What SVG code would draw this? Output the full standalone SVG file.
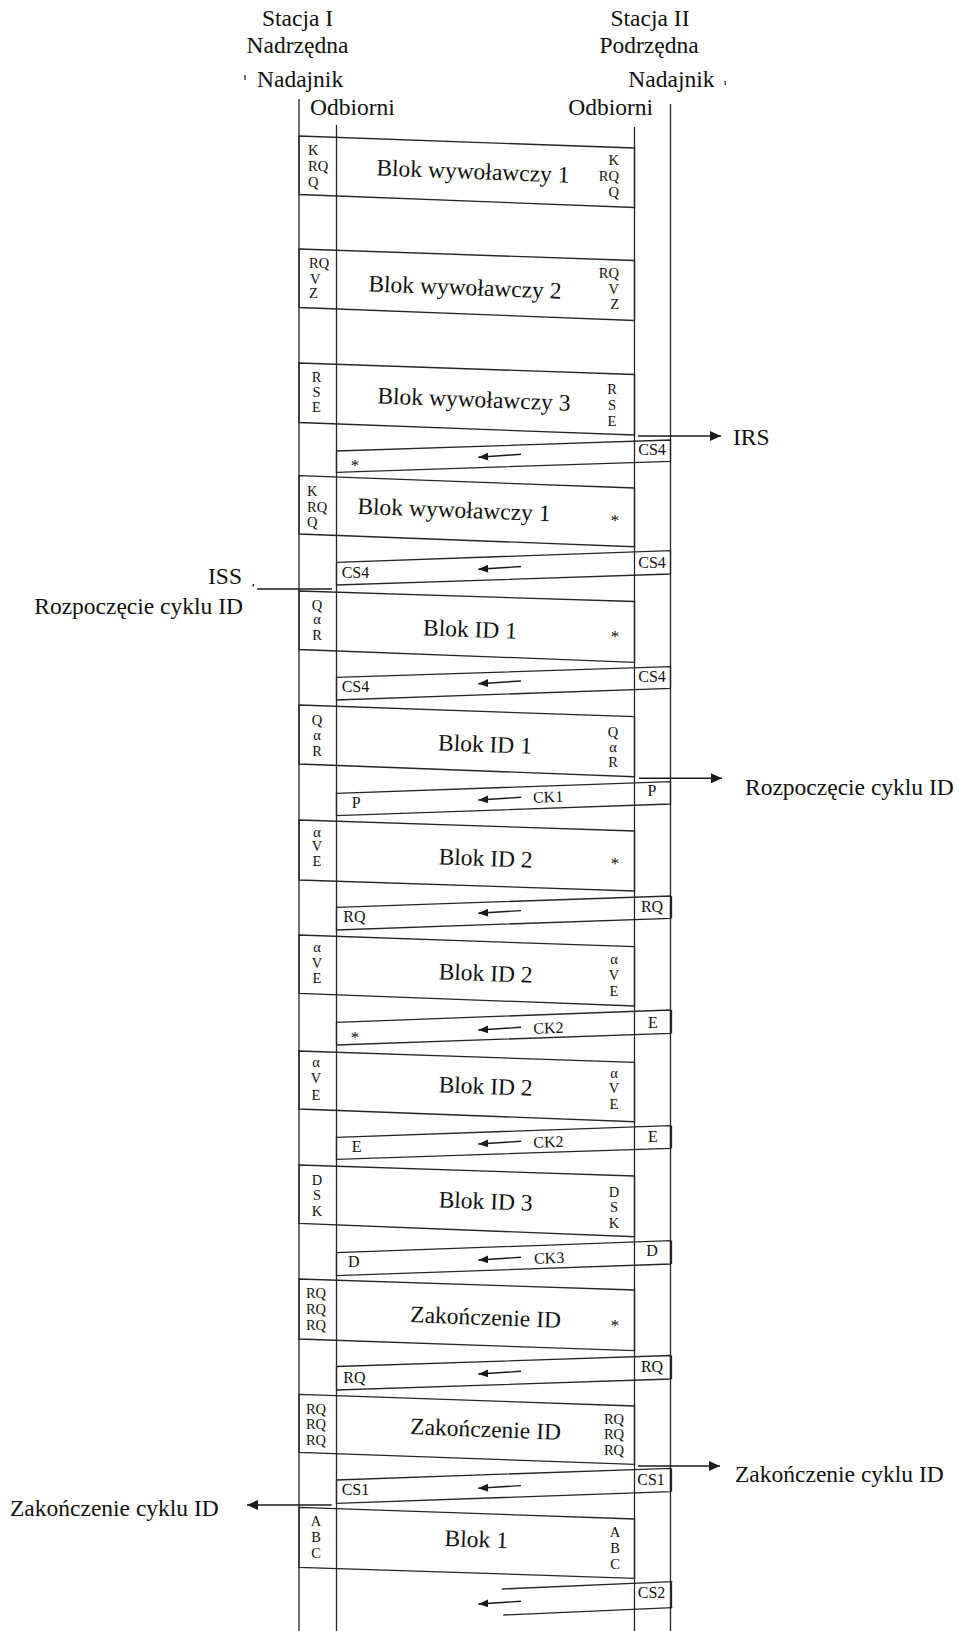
<svg xmlns="http://www.w3.org/2000/svg" width="959" height="1631" viewBox="0 0 959 1631">
<defs>
<style>
.ln{stroke:#262626;stroke-width:1.3;fill:none}
.bx polygon,.bx line{stroke:#262626;stroke-width:1.3;fill:none}
.edge{stroke:#262626;stroke-width:2.4}
text{font-family:"Liberation Serif","Times New Roman",serif;fill:#111}
.big{font-size:23.5px}
.sm{font-size:14.5px}
.md{font-size:16px}
.ast{font-size:17px;text-anchor:middle}
.c{text-anchor:middle}
.e{text-anchor:end}
.ar{stroke:#1a1a1a;stroke-width:1.4;fill:none}
</style>
<marker id="ah" viewBox="0 0 10 8" refX="10" refY="4" markerWidth="10" markerHeight="8" markerUnits="userSpaceOnUse" orient="auto"><path d="M0,0 L10,4 L0,8 z" fill="#1a1a1a"/></marker>
<marker id="ahb" viewBox="0 0 11 10" refX="11" refY="5" markerWidth="11" markerHeight="10" markerUnits="userSpaceOnUse" orient="auto"><path d="M0,0 L11,5 L0,10 z" fill="#1a1a1a"/></marker>
</defs>
<rect width="959" height="1631" fill="#fff"/>

<g id="header">
<text class="big c" x="297.5" y="25.7">Stacja I</text>
<text class="big c" x="297.5" y="53.3">Nadrzędna</text>
<text class="big" x="257" y="87.3">Nadajnik</text>
<text class="big" x="310" y="115">Odbiorni</text>
<text class="big c" x="650" y="25.7">Stacja II</text>
<text class="big c" x="649" y="53.3">Podrzędna</text>
<text class="big" x="628.3" y="87.3">Nadajnik</text>
<text class="big" x="568.3" y="115">Odbiorni</text>
<line class="ln" x1="245" y1="75" x2="245" y2="80"/>
<line class="ln" x1="725" y1="81" x2="725.5" y2="85"/>
</g>

<g id="lifelines" class="ln">
<line x1="299" y1="99" x2="299" y2="1631"/>
<line x1="336.5" y1="125" x2="336.5" y2="1631"/>
<line x1="634.5" y1="127" x2="634.5" y2="1631"/>
<line x1="670.5" y1="104" x2="670.5" y2="1631"/>
</g>

<g id="b1" class="bx">
<polygon points="299,136 634.5,148 634.5,207.5 299,194.5"/>
<text class="big c" x="473" y="179" transform="rotate(2.2 473 171)">Blok wywoławczy 1</text>
<text class="sm" x="308" y="155">K</text><text class="sm" x="308" y="171">RQ</text><text class="sm" x="308" y="186.5">Q</text>
<text class="sm e" x="619" y="165">K</text><text class="sm e" x="619" y="181">RQ</text><text class="sm e" x="619" y="196.7">Q</text>
</g>

<g id="b2" class="bx">
<polygon points="299,249 634.5,260.5 634.5,320.5 299,307.5"/>
<text class="big c" x="465" y="295" transform="rotate(2.2 465 287)">Blok wywoławczy 2</text>
<text class="sm" x="309" y="268.3">RQ</text><text class="sm" x="310" y="284.3">V</text><text class="sm" x="309" y="297.7">Z</text>
<text class="sm e" x="619" y="278.3">RQ</text><text class="sm e" x="619" y="294.3">V</text><text class="sm e" x="619" y="309">Z</text>
</g>

<g id="b3" class="bx">
<polygon points="299,363 634.5,374.5 634.5,435 299,422.5"/>
<text class="big c" x="474" y="407" transform="rotate(2.2 474 399)">Blok wywoławczy 3</text>
<text class="sm c" x="316.5" y="381.7">R</text><text class="sm c" x="316.5" y="396.7">S</text><text class="sm c" x="316.5" y="412.3">E</text>
<text class="sm c" x="612" y="394.3">R</text><text class="sm c" x="612" y="410">S</text><text class="sm c" x="612" y="426">E</text>
</g>

<g id="r1" class="bx">
<polygon points="336.5,451 670.5,440 670.5,461.3 336.5,472.3"/>
<text class="ast" x="355" y="470.5">*</text>
<text class="md c" x="652" y="455">CS4</text>
</g>

<g id="b4" class="bx">
<polygon points="299,475.7 634.5,488 634.5,546.7 299,534"/>
<text class="big c" x="454" y="517.5" transform="rotate(2.2 454 509.5)">Blok wywoławczy 1</text>
<text class="sm" x="307" y="496">K</text><text class="sm" x="307" y="511.7">RQ</text><text class="sm" x="307" y="526.7">Q</text>
<text class="ast" x="615" y="526.3">*</text>
</g>

<g id="r2" class="bx">
<polygon points="336.5,562.3 670.5,550.7 670.5,574 336.5,585"/>
<text class="md" x="341.7" y="577.7">CS4</text>
<text class="md c" x="652" y="567.7">CS4</text>
</g>

<g id="b5" class="bx">
<polygon points="299,591 634.5,601.5 634.5,662.3 299,649.5"/>
<text class="big c" x="470" y="637" transform="rotate(2.2 470 629)">Blok ID 1</text>
<text class="sm c" x="317" y="610">Q</text><text class="sm c" x="317" y="624.3">α</text><text class="sm c" x="317" y="640">R</text>
<text class="ast" x="615" y="642">*</text>
</g>

<g id="r3" class="bx">
<polygon points="336.5,677.3 670.5,666.7 670.5,688.3 336.5,700"/>
<text class="md" x="341.7" y="691.7">CS4</text>
<text class="md c" x="652" y="681.7">CS4</text>
</g>

<g id="b6" class="bx">
<polygon points="299,705 634.5,716.7 634.5,776.7 299,764"/>
<text class="big c" x="485" y="752" transform="rotate(2.2 485 744)">Blok ID 1</text>
<text class="sm c" x="317" y="725">Q</text><text class="sm c" x="317" y="740">α</text><text class="sm c" x="317" y="755.7">R</text>
<text class="sm c" x="613" y="736.7">Q</text><text class="sm c" x="613" y="751.7">α</text><text class="sm c" x="613" y="766.7">R</text>
</g>

<g id="r4" class="bx">
<polygon points="336.5,793.3 670.5,781.7 670.5,804 336.5,815.7"/>
<text class="md" x="351.7" y="808.3">P</text>
<text class="md" x="533" y="802.3" transform="rotate(-2 548 797)">CK1</text>
<text class="md c" x="652" y="795.7">P</text>
</g>

<g id="b7" class="bx">
<polygon points="299,820 634.5,831 634.5,891 299,880"/>
<text class="big c" x="485.7" y="866" transform="rotate(2.2 485.7 858)">Blok ID 2</text>
<text class="sm c" x="317" y="836.7">α</text><text class="sm c" x="317" y="851">V</text><text class="sm c" x="317" y="866">E</text>
<text class="ast" x="615" y="869">*</text>
</g>

<g id="r5" class="bx">
<polygon points="336.5,907.3 670.5,896 670.5,918.3 336.5,930"/>
<line class="edge" x1="671.5" y1="896" x2="671.5" y2="918.3"/>
<text class="md" x="343.3" y="922.3">RQ</text>
<text class="md c" x="652" y="911.7">RQ</text>
</g>

<g id="b8" class="bx">
<polygon points="299,935 634.5,946.7 634.5,1006 299,993.3"/>
<text class="big c" x="485.7" y="981" transform="rotate(2.2 485.7 973)">Blok ID 2</text>
<text class="sm c" x="317" y="952.3">α</text><text class="sm c" x="317" y="968.3">V</text><text class="sm c" x="317" y="983.3">E</text>
<text class="sm c" x="614" y="964.3">α</text><text class="sm c" x="614" y="980">V</text><text class="sm c" x="614" y="996">E</text>
</g>

<g id="r6" class="bx">
<polygon points="336.5,1022.3 670.5,1010 670.5,1033.3 336.5,1045"/>
<line class="edge" x1="671.5" y1="1010" x2="671.5" y2="1033.3"/>
<text class="ast" x="355" y="1043">*</text>
<text class="md" x="533.3" y="1033.3" transform="rotate(-2 548 1028)">CK2</text>
<text class="md c" x="653" y="1027.7">E</text>
</g>

<g id="b9" class="bx">
<polygon points="299,1051 634.5,1062.3 634.5,1121.7 299,1109"/>
<text class="big c" x="485.7" y="1094" transform="rotate(2.2 485.7 1086)">Blok ID 2</text>
<text class="sm c" x="316" y="1066.7">α</text><text class="sm c" x="316" y="1082.7">V</text><text class="sm c" x="316" y="1100">E</text>
<text class="sm c" x="614" y="1078.3">α</text><text class="sm c" x="614" y="1093.3">V</text><text class="sm c" x="614" y="1109.3">E</text>
</g>

<g id="r7" class="bx">
<polygon points="336.5,1137.3 670.5,1125.7 670.5,1148.3 336.5,1159.3"/>
<line class="edge" x1="671.5" y1="1125.7" x2="671.5" y2="1148.3"/>
<text class="md" x="351.7" y="1151.7">E</text>
<text class="md" x="533.3" y="1147.3" transform="rotate(-2 548 1142)">CK2</text>
<text class="md c" x="653" y="1141.7">E</text>
</g>

<g id="b10" class="bx">
<polygon points="299,1165 634.5,1176 634.5,1236.7 299,1223.3"/>
<text class="big c" x="485.7" y="1209" transform="rotate(2.2 485.7 1201)">Blok ID 3</text>
<text class="sm c" x="317" y="1185">D</text><text class="sm c" x="317" y="1200">S</text><text class="sm c" x="317" y="1215.7">K</text>
<text class="sm c" x="614" y="1196.7">D</text><text class="sm c" x="614" y="1211.7">S</text><text class="sm c" x="614" y="1227.7">K</text>
</g>

<g id="r8" class="bx">
<polygon points="336.5,1252.7 670.5,1240.7 670.5,1264 336.5,1275.7"/>
<line class="edge" x1="671.5" y1="1240.7" x2="671.5" y2="1264"/>
<text class="md" x="348" y="1266.7">D</text>
<text class="md" x="534" y="1263.3" transform="rotate(-2 549 1258)">CK3</text>
<text class="md c" x="652" y="1256">D</text>
</g>

<g id="b11" class="bx">
<polygon points="299,1279 634.5,1290 634.5,1350.7 299,1339"/>
<text class="big c" x="485.7" y="1325" transform="rotate(2.2 485.7 1317)">Zakończenie ID</text>
<text class="sm c" x="316" y="1298.3">RQ</text><text class="sm c" x="316" y="1314">RQ</text><text class="sm c" x="316" y="1330">RQ</text>
<text class="ast" x="615" y="1331">*</text>
</g>

<g id="r9" class="bx">
<polygon points="336.5,1366.5 670.5,1355.5 670.5,1379 336.5,1390"/>
<line class="edge" x1="671.5" y1="1355.5" x2="671.5" y2="1379"/>
<text class="md" x="343.3" y="1382.7">RQ</text>
<text class="md c" x="652" y="1371.7">RQ</text>
</g>

<g id="b12" class="bx">
<polygon points="299,1394.3 634.5,1406 634.5,1464.3 299,1452.3"/>
<text class="big c" x="485.7" y="1437" transform="rotate(2.2 485.7 1429)">Zakończenie ID</text>
<text class="sm c" x="316" y="1414.3">RQ</text><text class="sm c" x="316" y="1429.3">RQ</text><text class="sm c" x="316" y="1445">RQ</text>
<text class="sm c" x="614" y="1424">RQ</text><text class="sm c" x="614" y="1439">RQ</text><text class="sm c" x="614" y="1455">RQ</text>
</g>

<g id="r10" class="bx">
<polygon points="336.5,1480 670.5,1468.3 670.5,1491.7 336.5,1503.3"/>
<line class="edge" x1="671.5" y1="1468.3" x2="671.5" y2="1491.7"/>
<text class="md" x="341.7" y="1495">CS1</text>
<text class="md c" x="651" y="1485">CS1</text>
</g>

<g id="b13" class="bx">
<polygon points="299,1507.3 634.5,1519 634.5,1578.3 299,1567.3"/>
<text class="big c" x="476.3" y="1547" transform="rotate(2.2 476.3 1539)">Blok 1</text>
<text class="sm c" x="316" y="1526">A</text><text class="sm c" x="316" y="1541.7">B</text><text class="sm c" x="316" y="1557.7">C</text>
<text class="sm c" x="615" y="1536.7">A</text><text class="sm c" x="615" y="1552.7">B</text><text class="sm c" x="615" y="1569">C</text>
</g>

<g id="r11" class="bx">
<line x1="501.7" y1="1589" x2="672.3" y2="1581.7"/>
<line x1="503.3" y1="1615" x2="672.3" y2="1607.7"/>
<line class="edge" x1="671.5" y1="1581.7" x2="671.5" y2="1607.7"/>
<text class="md c" x="651.5" y="1598.3">CS2</text>
</g>

<g id="side-labels">
<text class="big" x="733" y="445">IRS</text>
<text class="big e" x="242" y="584">ISS</text>
<text class="big e" x="243" y="614">Rozpoczęcie cyklu ID</text>
<text class="big" x="745" y="795">Rozpoczęcie cyklu ID</text>
<text class="big" x="735" y="1482">Zakończenie cyklu ID</text>
<text class="big" x="10" y="1516">Zakończenie cyklu ID</text>
</g>

<g id="connectors">
<line class="ar" x1="638" y1="436" x2="721" y2="436" marker-end="url(#ahb)"/>
<line class="ar" x1="257" y1="589" x2="332" y2="589"/>
<line class="ar" x1="253.5" y1="584" x2="253" y2="586.5"/>
<line class="ar" x1="639" y1="778.3" x2="722" y2="778.3" marker-end="url(#ahb)"/>
<line class="ar" x1="638" y1="1466" x2="720" y2="1466" marker-end="url(#ahb)"/>
<line class="ar" x1="331.7" y1="1505" x2="247" y2="1505" marker-end="url(#ahb)"/>
<line class="ar" x1="521" y1="454.3" x2="478.3" y2="457.3" marker-end="url(#ah)"/>
<line class="ar" x1="521" y1="566.5" x2="478.3" y2="569.3" marker-end="url(#ah)"/>
<line class="ar" x1="521" y1="681" x2="478.3" y2="683.7" marker-end="url(#ah)"/>
<line class="ar" x1="521" y1="797.3" x2="478.3" y2="800" marker-end="url(#ah)"/>
<line class="ar" x1="521" y1="910.6" x2="478.3" y2="913.3" marker-end="url(#ah)"/>
<line class="ar" x1="521" y1="1027.3" x2="478.3" y2="1030" marker-end="url(#ah)"/>
<line class="ar" x1="521" y1="1141.3" x2="478.3" y2="1144" marker-end="url(#ah)"/>
<line class="ar" x1="521" y1="1257.3" x2="478.3" y2="1260" marker-end="url(#ah)"/>
<line class="ar" x1="521" y1="1371.3" x2="478.3" y2="1374" marker-end="url(#ah)"/>
<line class="ar" x1="521" y1="1485.6" x2="478.3" y2="1488.3" marker-end="url(#ah)"/>
<line class="ar" x1="521" y1="1601.3" x2="478.3" y2="1604" marker-end="url(#ah)"/>
</g>
</svg>
